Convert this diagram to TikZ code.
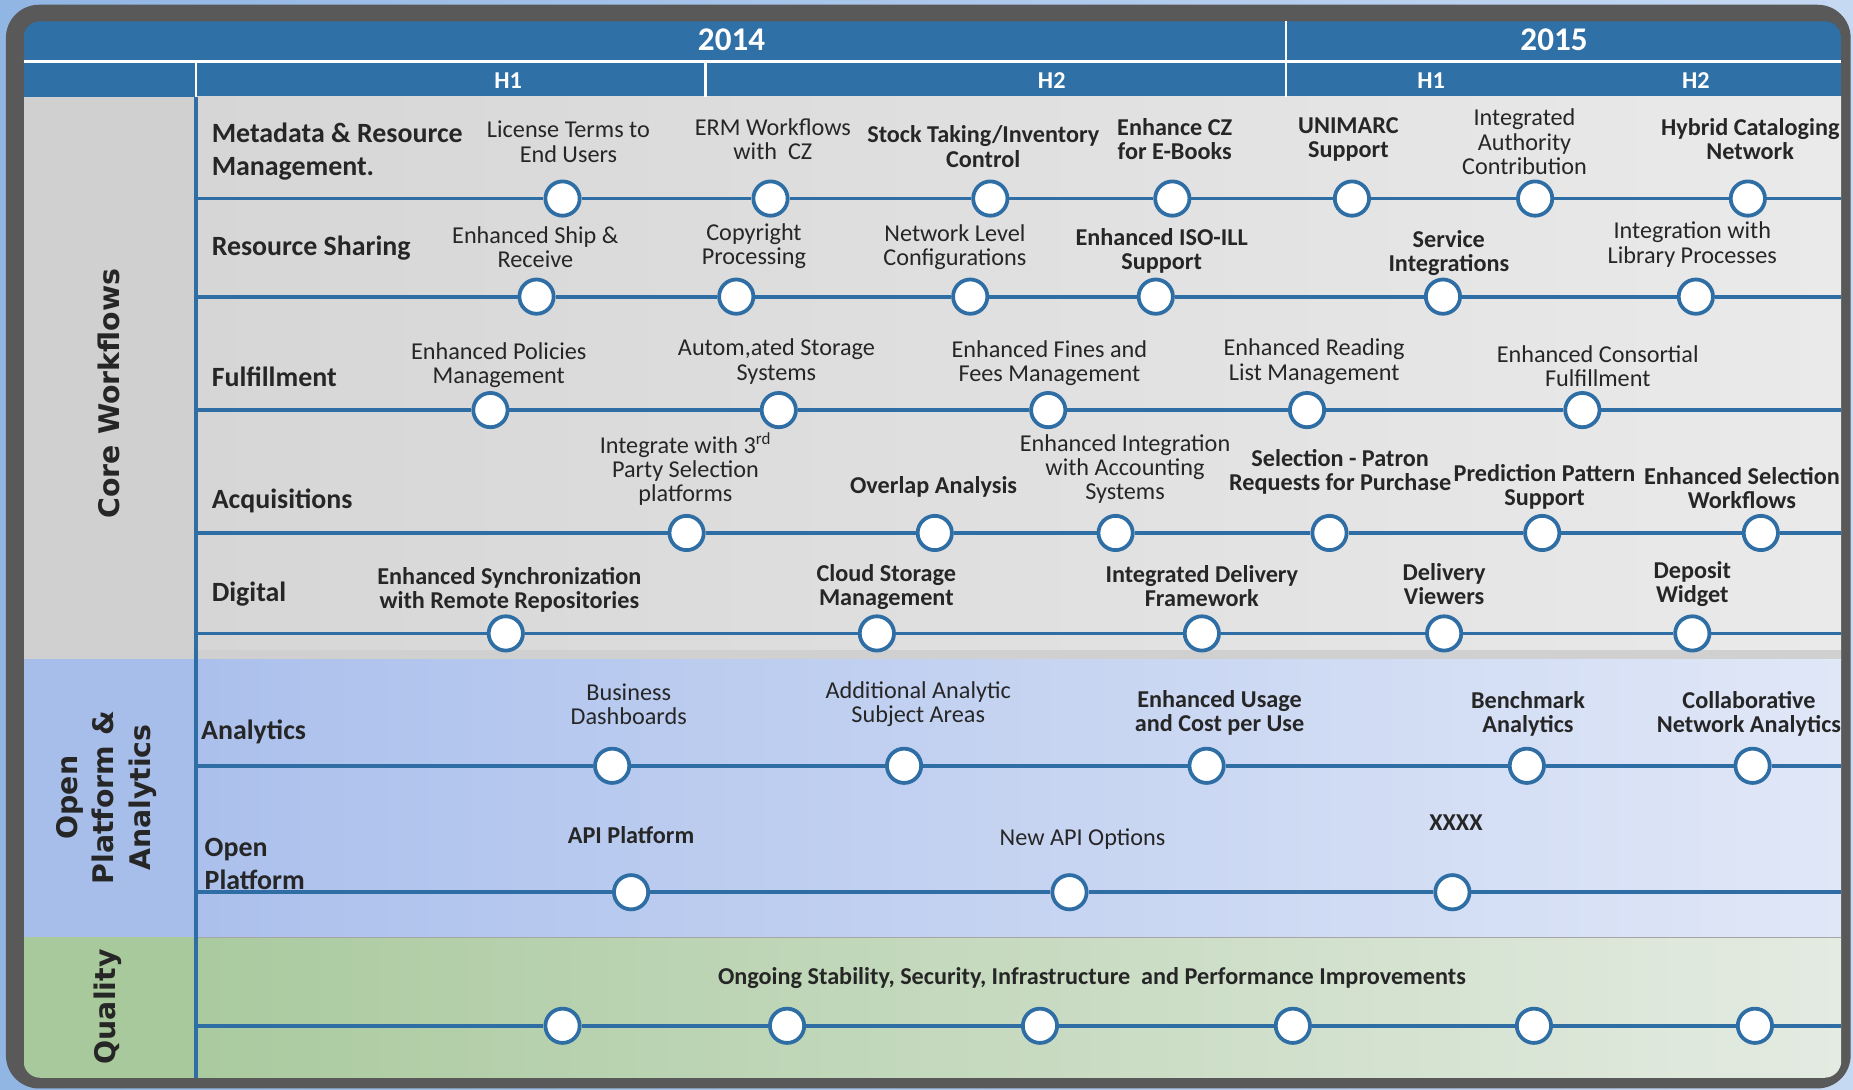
\documentclass[tikz,border=0pt]{standalone}
\usepackage{fontspec}
\setmainfont{Carlito}
\newfontfamily\sidefont{DejaVu Sans}
\usepackage{tikz}
\definecolor{hdrblue}{RGB}{47,112,166}
\definecolor{trackblue}{RGB}{46,110,165}
\definecolor{framegray}{RGB}{89,89,89}
\definecolor{txt}{RGB}{38,38,38}
\definecolor{coregray}{RGB}{208,208,208}
\definecolor{openblue}{RGB}{168,190,234}
\definecolor{qualgreen}{RGB}{168,201,156}

\begin{document}
\begin{tikzpicture}[x=1pt, y=-1pt,
  ms/.style={circle, draw=trackblue, fill=white, line width=3.2pt,
    minimum size=29pt, inner sep=0pt},
  track/.style={draw=trackblue, line width=3.2pt},
  lbl/.style={align=center, text=txt, inner sep=0pt,
    font=\fontsize{20.5}{20.5}\selectfont},
  blbl/.style={lbl, font=\bfseries\fontsize{20.5}{20.5}\selectfont},
  rowlbl/.style={anchor=west, align=left, text=txt, inner sep=0pt,
    font=\bfseries\fontsize{23.6}{28}\selectfont},
  sidelbl/.style={rotate=90, align=center, text=txt, inner sep=0pt,
    font=\sidefont\bfseries\fontsize{24}{31}\selectfont},
  year/.style={text=white, font=\bfseries\fontsize{28}{30}\selectfont},
  half/.style={text=white, font=\bfseries\fontsize{20.5}{22}\selectfont},
  ]
  % background and frame
  \fill[left color={rgb,255:red,145;green,182;blue,228},
        right color={rgb,255:red,198;green,217;blue,243}] (0,0) rectangle (1568,922);
  \useasboundingbox (0,0) rectangle (1568,922);
  \fill[framegray, rounded corners=28pt] (5,4) rectangle (1566,921);
  \begin{scope}
    \clip[rounded corners=14pt] (20,18) rectangle (1558,912);
    % header
    \fill[hdrblue] (20,18) rectangle (1558,82);
    % core workflows
    \fill[coregray] (20,82) rectangle (166,558);
    \fill[left color={rgb,255:red,214;green,214;blue,214},
          right color={rgb,255:red,234;green,234;blue,234}] (166,82) rectangle (1558,558);
    \fill[coregray] (166,550) rectangle (1558,558);
    % open platform & analytics
    \fill[openblue] (20,558) rectangle (166,793);
    \fill[left color={rgb,255:red,171;green,192;blue,236},
          right color={rgb,255:red,224;green,231;blue,247}] (166,558) rectangle (1558,793);
    % quality
    \fill[qualgreen] (20,793) rectangle (166,912);
    \fill[left color={rgb,255:red,170;green,202;blue,159},
          right color={rgb,255:red,228;green,235;blue,226}] (166,793) rectangle (1558,912);
  \end{scope}
  \draw[white, line width=2pt] (20,52) -- (1558,52);
  \draw[white, line width=2pt] (1088,18) -- (1088,82);
  \draw[white, line width=2pt] (166,52) -- (166,82);
  \draw[white, line width=2pt] (597,52) -- (597,82);
  \draw[gray!70, line width=1pt] (166,793) -- (1558,793);
  \draw[trackblue, line width=3pt] (166,82) -- (166,912);

  % header texts
  \node[year] (y14) at (619,34) {2014};
  \node[year] (y15) at (1315,34) {2015};
  \node[half] (h1a) at (430,68) {H1};
  \node[half] (h2a) at (890,68) {H2};
  \node[half] (h1b) at (1211,68) {H1};
  \node[half] (h2b) at (1435,68) {H2};

  % side labels
  \node[sidelbl] (core) at (92,333) {Core Workflows};
  \node[sidelbl] (open) at (90,675) {Open\\Platform \&\\Analytics};
  \node[sidelbl] (qual) at (91,852) {Quality};

  % row labels
  \node[rowlbl] (mdlbl) at (179,128) {Metadata \& Resource\\Management.};
  \node[rowlbl] (rslbl) at (179,210) {Resource Sharing};
  \node[rowlbl] (fflbl) at (179,319) {Fulfillment};
  \node[rowlbl] (aqlbl) at (179,424) {Acquisitions};
  \node[rowlbl] (dglbl) at (179,503) {Digital};
  \node[rowlbl] (anlbl) at (170,619) {Analytics};
  \node[rowlbl] (oplbl) at (173,731) {Open\\Platform};

  % metadata & resource management
  \coordinate (mdL) at (166,168);
  \coordinate (mdR) at (1558,168);
  \node[ms] (md1) at (476,168) {};
  \node[ms] (md2) at (652,168) {};
  \node[ms] (md3) at (838,168) {};
  \node[ms] (md4) at (992,168) {};
  \node[ms] (md5) at (1144,168) {};
  \node[ms] (md6) at (1299,168) {};
  \node[ms] (md7) at (1479,168) {};
  \draw[track] (mdL) -- (md1) -- (md2) -- (md3) -- (md4) -- (md5) -- (md6) -- (md7) -- (mdR);
  \node[lbl] (md1t) at (481,120) {License Terms to\\End Users};
  \node[lbl] (md2t) at (654,118) {ERM Workflows\\with~ CZ};
  \node[blbl] (md3t) at (832,124) {Stock Taking/Inventory\\Control};
  \node[blbl] (md4t) at (994,118) {Enhance CZ\\for E-Books};
  \node[blbl] (md5t) at (1141,118) {UNIMARC\\Support};
  \node[lbl] (md6t) at (1290,120) {Integrated\\Authority\\Contribution};
  \node[blbl] (md7t) at (1481,118) {Hybrid Cataloging\\Network};

  % resource sharing
  \coordinate (rsL) at (166,251);
  \coordinate (rsR) at (1558,251);
  \node[ms] (rs1) at (454,251) {};
  \node[ms] (rs2) at (623,251) {};
  \node[ms] (rs3) at (821,251) {};
  \node[ms] (rs4) at (978,251) {};
  \node[ms] (rs5) at (1221,251) {};
  \node[ms] (rs6) at (1435,251) {};
  \draw[track] (rsL) -- (rs1) -- (rs2) -- (rs3) -- (rs4) -- (rs5) -- (rs6) -- (rsR);
  \node[lbl] (rs1t) at (453,209) {Enhanced Ship \&\\Receive};
  \node[lbl] (rs2t) at (638,208) {Copyright\\Processing};
  \node[lbl] (rs3t) at (808,209) {Network Level\\Configurations};
  \node[blbl] (rs4t) at (983,212) {Enhanced ISO-ILL\\Support};
  \node[blbl] (rs5t) at (1226,214) {Service\\Integrations};
  \node[lbl] (rs6t) at (1432,207) {Integration with\\Library Processes};

  % fulfillment
  \coordinate (ffL) at (166,347);
  \coordinate (ffR) at (1558,347);
  \node[ms] (ff1) at (415,347) {};
  \node[ms] (ff2) at (659,347) {};
  \node[ms] (ff3) at (887,347) {};
  \node[ms] (ff4) at (1106,347) {};
  \node[ms] (ff5) at (1339,347) {};
  \draw[track] (ffL) -- (ff1) -- (ff2) -- (ff3) -- (ff4) -- (ff5) -- (ffR);
  \node[lbl] (ff1t) at (422,309) {Enhanced Policies\\Management};
  \node[lbl] (ff2t) at (657,306) {Autom,ated Storage\\Systems};
  \node[lbl] (ff3t) at (888,307) {Enhanced Fines and\\Fees Management};
  \node[lbl] (ff4t) at (1112,306) {Enhanced Reading\\List Management};
  \node[lbl] (ff5t) at (1352,310) {Enhanced Consortial\\Fulfillment};

  % acquisitions
  \coordinate (aqL) at (166,451);
  \coordinate (aqR) at (1558,451);
  \node[ms] (aq1) at (581,451) {};
  \node[ms] (aq2) at (791,451) {};
  \node[ms] (aq3) at (944,451) {};
  \node[ms] (aq4) at (1125,451) {};
  \node[ms] (aq5) at (1305,451) {};
  \node[ms] (aq6) at (1490,451) {};
  \draw[track] (aqL) -- (aq1) -- (aq2) -- (aq3) -- (aq4) -- (aq5) -- (aq6) -- (aqR);
  \node[lbl] (aq1t) at (580,397) {Integrate with 3\textsuperscript{rd}\\Party Selection\\platforms};
  \node[blbl] (aq2t) at (790,412) {Overlap Analysis};
  \node[lbl] (aq3t) at (952,397) {Enhanced Integration\\with Accounting\\Systems};
  \node[blbl] (aq4t) at (1134,399) {Selection - Patron\\Requests for Purchase};
  \node[blbl] (aq5t) at (1307,412) {Prediction Pattern\\Support};
  \node[blbl] (aq6t) at (1474,413) {Enhanced Selection\\Workflows};

  % digital
  \coordinate (dgL) at (166,536);
  \coordinate (dgR) at (1558,536);
  \node[ms] (dg1) at (428,536) {};
  \node[ms] (dg2) at (742,536) {};
  \node[ms] (dg3) at (1017,536) {};
  \node[ms] (dg4) at (1222,536) {};
  \node[ms] (dg5) at (1432,536) {};
  \draw[track] (dgL) -- (dg1) -- (dg2) -- (dg3) -- (dg4) -- (dg5) -- (dgR);
  \node[blbl] (dg1t) at (431,499) {Enhanced Synchronization\\with Remote Repositories};
  \node[blbl] (dg2t) at (750,497) {Cloud Storage\\Management};
  \node[blbl] (dg3t) at (1017,496) {Integrated Delivery\\Framework};
  \node[blbl] (dg4t) at (1222,494) {Delivery\\Viewers};
  \node[blbl] (dg5t) at (1432,494) {Deposit\\Widget};

  % analytics
  \coordinate (anL) at (166,648);
  \coordinate (anR) at (1558,648);
  \node[ms] (an1) at (518,648) {};
  \node[ms] (an2) at (765,648) {};
  \node[ms] (an3) at (1021,648) {};
  \node[ms] (an4) at (1292,648) {};
  \node[ms] (an5) at (1483,648) {};
  \draw[track] (anL) -- (an1) -- (an2) -- (an3) -- (an4) -- (an5) -- (anR);
  \node[lbl] (an1t) at (532,596) {Business\\Dashboards};
  \node[lbl] (an2t) at (777,596) {Additional Analytic\\Subject Areas};
  \node[blbl] (an3t) at (1032,603) {Enhanced Usage\\and Cost per Use};
  \node[blbl] (an4t) at (1293,604) {Benchmark\\Analytics};
  \node[blbl] (an5t) at (1480,604) {Collaborative\\Network Analytics};

  % open platform
  \coordinate (opL) at (166,755);
  \coordinate (opR) at (1558,755);
  \node[ms] (op1) at (534,755) {};
  \node[ms] (op2) at (905,755) {};
  \node[ms] (op3) at (1229,755) {};
  \draw[track] (opL) -- (op1) -- (op2) -- (op3) -- (opR);
  \node[blbl] (op1t) at (534,707) {API Platform};
  \node[lbl] (op2t) at (916,710) {New API Options};
  \node[blbl] (op3t) at (1232,696) {XXXX};

  % quality
  \coordinate (qlL) at (166,868);
  \coordinate (qlR) at (1558,868);
  \node[ms] (ql1) at (476,868) {};
  \node[ms] (ql2) at (666,868) {};
  \node[ms] (ql3) at (880,868) {};
  \node[ms] (ql4) at (1094,868) {};
  \node[ms] (ql5) at (1298,868) {};
  \node[ms] (ql6) at (1485,868) {};
  \draw[track] (qlL) -- (ql1) -- (ql2) -- (ql3) -- (ql4) -- (ql5) -- (ql6) -- (qlR);
  \node[blbl] (qlt) at (924,828) {Ongoing Stability, Security, Infrastructure~ and Performance Improvements};
\end{tikzpicture}
\end{document}
